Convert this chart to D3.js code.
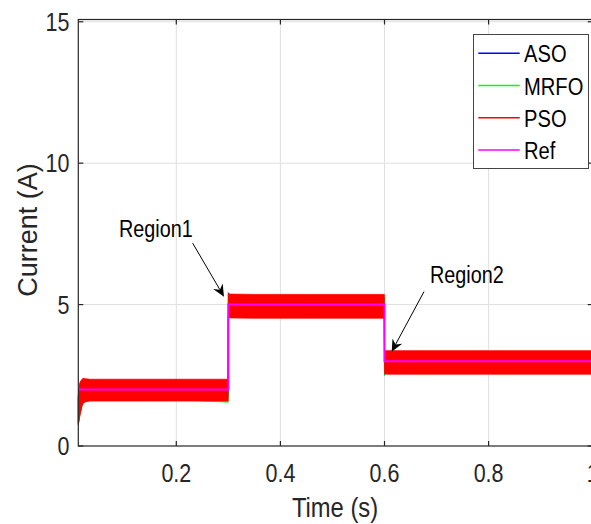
<!DOCTYPE html>
<meta charset="utf-8">
<style>
 body { margin: 0; background: #fff; }
 svg { display: block; }
 text { font-family: "Liberation Sans", Arial, Helvetica, sans-serif; }
 .grid line { stroke: #dfdfdf; stroke-width: 1; }
 .tick-lbl { fill: #262626; font-size: 25px; }
 .ax-lbl { fill: #262626; }
</style>
<body>
<div id="chart"></div>
<script src="https://cdn.jsdelivr.net/npm/d3@7"></script>
<script>
(function(){

  // envelopes of the switching current (time in s, current in A)
  var time   = [0.0117, 0.015, 0.0188, 0.0207, 0.0246, 0.0342, 0.0438, 0.15, 0.2996, 0.3, 0.304, 0.35, 0.45, 0.5996, 0.6, 0.605, 0.65, 0.8, 1.0];
  var psoHi  = [1.80, 2.26, 2.36, 2.39, 2.38, 2.36, 2.36, 2.36, 2.36, 5.37, 5.37, 5.36, 5.36, 5.36, 3.37, 3.37, 3.37, 3.37, 3.37];
  var psoLo  = [0.74, 1.10, 1.41, 1.50, 1.56, 1.59, 1.59, 1.59, 1.59, 4.56, 4.53, 4.52, 4.52, 4.52, 2.56, 2.54, 2.54, 2.54, 2.54];
  var asoHi  = [1.70, 2.20, 2.30, 2.32, 2.30, 2.28, 2.25, 2.25, 2.25, 5.42, 5.30, 5.25, 5.25, 5.25, 3.30, 3.28, 3.25, 3.25, 3.25];
  var asoLo  = [0.80, 1.15, 1.45, 1.55, 1.62, 1.70, 1.72, 1.72, 1.72, 4.60, 4.65, 4.70, 4.70, 4.70, 2.50, 2.65, 2.70, 2.72, 2.72];
  var mrfoHi = [1.75, 2.22, 2.32, 2.34, 2.32, 2.30, 2.28, 2.28, 2.28, 5.35, 5.32, 5.28, 5.28, 5.28, 3.32, 3.30, 3.28, 3.28, 3.28];
  var mrfoLo = [0.78, 1.12, 1.43, 1.53, 1.60, 1.66, 1.68, 1.68, 1.55, 4.58, 4.60, 4.66, 4.66, 4.66, 2.52, 2.60, 2.66, 2.68, 2.68];

  var refTime = [0.0117, 0.3, 0.3, 0.6, 0.6, 1.0];
  var refVal  = [2, 2, 5, 5, 3, 3];

  var xTicks = [0.2, 0.4, 0.6, 0.8, 1];
  var yTicks = [0, 5, 10, 15];

  var legendNames  = ["ASO", "MRFO", "PSO", "Ref"];
  var legendColors = ["#0000ff", "#00ff00", "#ff0000", "#ff00ff"];

  // annotations in data units: label position, arrow start, arrow tip
  var notes = [
    {label: "Region1", tx: 0.0899, ty: 7.38, x1: 0.2315, y1: 7.17, x2: 0.2916, y2: 5.28},
    {label: "Region2", tx: 0.6874, ty: 5.755, x1: 0.6759, y1: 5.458, x2: 0.6138, y2: 3.336}
  ];

  var width = 591, height = 524;
  var left = 78.3, right = 592.7, top = 19.5, bottom = 446;

  var x = d3.scaleLinear().domain([0.0117, 1.0]).range([left, right]);
  var y = d3.scaleLinear().domain([0, 15.08]).range([bottom, top]);

  var svg = d3.select("#chart").append("svg")
      .attr("width", width)
      .attr("height", height);

  // grid
  var grid = svg.append("g").attr("class", "grid");
  grid.selectAll(".gx").data(xTicks).enter().append("line")
      .attr("x1", function(d){ return x(d); }).attr("x2", function(d){ return x(d); })
      .attr("y1", top).attr("y2", bottom);
  grid.selectAll(".gy").data(yTicks.filter(function(d){ return d > 0; })).enter().append("line")
      .attr("x1", left).attr("x2", right)
      .attr("y1", function(d){ return y(d); }).attr("y2", function(d){ return y(d); });

  var plot = svg.append("g");

  function band(hi, lo, color) {
    var rows = time.map(function(t, i){ return {t: t, hi: hi[i], lo: lo[i]}; });
    var area = d3.area()
        .x(function(d){ return x(d.t); })
        .y0(function(d){ return y(d.lo); })
        .y1(function(d){ return y(d.hi); });
    plot.append("path").datum(rows)
        .attr("d", area)
        .attr("fill", color)
        .attr("stroke", color)
        .attr("stroke-width", 0.8);
  }
  band(asoHi, asoLo, legendColors[0]);
  band(mrfoHi, mrfoLo, legendColors[1]);
  band(psoHi, psoLo, legendColors[2]);

  var refLine = d3.line()
      .x(function(d){ return x(d[0]); })
      .y(function(d){ return y(d[1]); });
  plot.append("path")
      .datum(refTime.map(function(t, i){ return [t, refVal[i]]; }))
      .attr("d", refLine)
      .attr("fill", "none")
      .attr("stroke", legendColors[3])
      .attr("stroke-width", 2);

  // axes box with inward ticks on all sides
  var axes = svg.append("g").attr("stroke", "#262626").attr("stroke-width", 1.2);
  axes.append("rect").attr("x", left).attr("y", top)
      .attr("width", right - left).attr("height", bottom - top)
      .attr("fill", "none");
  xTicks.forEach(function(d){
    axes.append("line").attr("x1", x(d)).attr("x2", x(d)).attr("y1", bottom).attr("y2", bottom - 5);
    axes.append("line").attr("x1", x(d)).attr("x2", x(d)).attr("y1", top).attr("y2", top + 5);
  });
  yTicks.forEach(function(d){
    axes.append("line").attr("x1", left).attr("x2", left + 5).attr("y1", y(d)).attr("y2", y(d));
    axes.append("line").attr("x1", right).attr("x2", right - 5).attr("y1", y(d)).attr("y2", y(d));
  });

  // tick labels (narrow, like the source)
  svg.selectAll(".xl").data(xTicks).enter().append("text")
      .attr("class", "tick-lbl")
      .attr("text-anchor", "middle")
      .attr("transform", function(d){ return "translate(" + x(d) + ",481.5) scale(0.86,1)"; })
      .text(function(d){ return d === 1 ? "1" : d3.format(".1f")(d); });
  svg.selectAll(".yl").data(yTicks).enter().append("text")
      .attr("class", "tick-lbl")
      .attr("text-anchor", "end")
      .attr("dy", "0.36em")
      .attr("transform", function(d){ return "translate(69.5," + y(d) + ") scale(0.86,1)"; })
      .text(function(d){ return d; });

  svg.append("text").attr("class", "ax-lbl")
      .attr("text-anchor", "middle")
      .attr("font-size", 27)
      .attr("transform", "translate(335,517) scale(0.88,1)")
      .text("Time (s)");
  svg.append("text").attr("class", "ax-lbl")
      .attr("text-anchor", "middle")
      .attr("font-size", 27)
      .attr("transform", "translate(37,230) rotate(-90)")
      .text("Current (A)");

  // annotations
  notes.forEach(function(n){
    svg.append("text")
        .attr("font-size", 23)
        .attr("fill", "#000")
        .attr("transform", "translate(" + x(n.tx) + "," + y(n.ty) + ") scale(0.86,1)")
        .text(n.label);
    var ax = x(n.x1), ay = y(n.y1), bx = x(n.x2), by = y(n.y2);
    var ang = Math.atan2(by - ay, bx - ax);
    var L = 12, W = 5.5, N = 8;
    var ux = Math.cos(ang), uy = Math.sin(ang), px = -uy, py = ux;
    svg.append("line")
        .attr("x1", ax).attr("y1", ay)
        .attr("x2", bx - ux * N).attr("y2", by - uy * N)
        .attr("stroke", "#000").attr("stroke-width", 1);
    var head = [
      [bx, by],
      [bx - ux * L + px * W, by - uy * L + py * W],
      [bx - ux * N, by - uy * N],
      [bx - ux * L - px * W, by - uy * L - py * W]
    ];
    svg.append("path")
        .attr("d", "M" + head.map(function(p){ return p.join(","); }).join("L") + "Z")
        .attr("fill", "#000");
  });

  // legend
  var lg = svg.append("g");
  lg.append("rect")
      .attr("x", 473.5).attr("y", 34.5).attr("width", 115).attr("height", 134)
      .attr("fill", "#fff").attr("stroke", "#444").attr("stroke-width", 1);
  legendNames.forEach(function(name, i){
    var ly = 53.3 + i * 32.2;
    lg.append("line")
        .attr("x1", 478.3).attr("x2", 519.7).attr("y1", ly).attr("y2", ly)
        .attr("stroke", legendColors[i]).attr("stroke-width", 1.5);
    lg.append("text")
        .attr("font-size", 24)
        .attr("fill", "#000")
        .attr("transform", "translate(524," + (ly + 9) + ") scale(0.84,1)")
        .text(name);
  });

})();
</script>
</body>
